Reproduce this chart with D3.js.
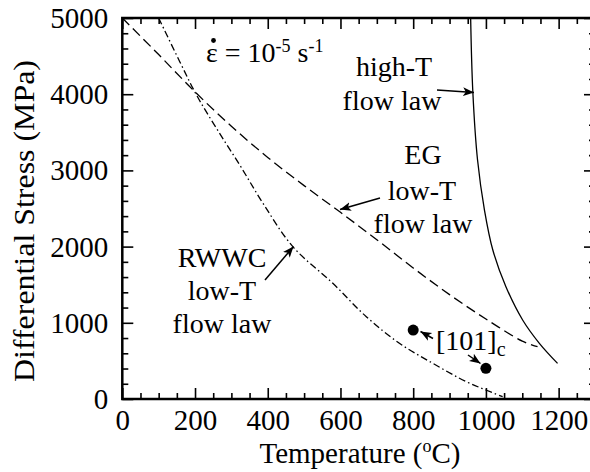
<!DOCTYPE html>
<html>
<head>
<meta charset="utf-8">
<script src="https://cdn.jsdelivr.net/npm/d3@7"></script>
<style>
  body { margin: 0; background: #fff; }
</style>
</head>
<body>
<svg id="chart" width="590" height="472"></svg>
<script>
// EG low-T flow law (dashed)
var egT = [0, 100, 200, 300, 400, 500, 600, 700, 800, 900, 1000, 1100, 1142];
var egS = [5000, 4520, 4030, 3580, 3170, 2800, 2450, 2090, 1720, 1370, 1050, 760, 686];
// RWWC low-T flow law (dash-dot)
var rwT = [100, 158, 204, 259, 323, 387, 469, 579, 671, 762, 854, 946, 1000, 1046];
var rwS = [5000, 4427, 3990, 3552, 3071, 2568, 2000, 1518, 1080, 731, 468, 227, 118, 30];
// high-T flow law (solid)
var htT = [958, 964, 977, 996, 1019, 1055, 1101, 1147, 1197];
var htS = [5000, 4033, 3136, 2480, 1955, 1474, 1037, 731, 468];
// [101]c experiments
var ptT = [800, 1000];
var ptS = [905, 403];

var xTicks = [0, 200, 400, 600, 800, 1000, 1200];
var yTicks = [0, 1000, 2000, 3000, 4000, 5000];

var FONT = '"Liberation Serif", "Times New Roman", Times, "DejaVu Serif", serif';

var svg = d3.select('#chart').style('font-family', FONT);
var x = d3.scaleLinear().domain([0, 1300]).range([122.3, 595]);
var y = d3.scaleLinear().domain([0, 5000]).range([399, 18]);

// arrow head
svg.append('defs').append('marker')
  .attr('id', 'head')
  .attr('viewBox', '0 0 10 10')
  .attr('refX', 10).attr('refY', 5)
  .attr('markerWidth', 11).attr('markerHeight', 11)
  .attr('markerUnits', 'userSpaceOnUse')
  .attr('orient', 'auto')
  .append('path').attr('d', 'M0,1 L10,5 L0,9 L2.5,5 Z').attr('fill', '#000');

function txt(sel) {
  return sel.style('font-family', FONT).attr('fill', '#000');
}

var xMinor = d3.range(0, 1301, 50).filter(function(v){ return v % 200; });
var xMajor = d3.range(0, 1301, 200);
var yMinor = d3.range(0, 5001, 200).filter(function(v){ return v % 1000; });

var g = svg.append('g');
// inward ticks on all four sides
function drawAxis(gen, tr, vals, size) {
  var a = g.append('g').attr('transform', tr)
    .call(gen.tickValues(vals).tickSize(size).tickSizeOuter(0).tickFormat(''));
  a.select('.domain').remove();
  a.selectAll('line').attr('stroke', '#000').attr('stroke-width', 1.6);
  return a;
}
drawAxis(d3.axisBottom(x), 'translate(0,399)', xMinor, -6);
var xa = drawAxis(d3.axisBottom(x), 'translate(0,399)', xMajor, -11);
txt(xa.selectAll('.tick').append('text').text(function(d){ return xTicks.indexOf(d) >= 0 ? d : ''; })
  .attr('y', 31).attr('text-anchor', 'middle').style('font-size', '29px'));
drawAxis(d3.axisTop(x), 'translate(0,18)', xMinor, -6);
drawAxis(d3.axisTop(x), 'translate(0,18)', xMajor, -11);

drawAxis(d3.axisLeft(y), 'translate(122.3,0)', yMinor, -6);
var ya = drawAxis(d3.axisLeft(y), 'translate(122.3,0)', yTicks, -11);
txt(ya.selectAll('.tick').append('text').text(function(d){ return d; })
  .attr('x', -14).attr('dy', '0.33em').attr('text-anchor', 'end').style('font-size', '29px'));
drawAxis(d3.axisRight(y), 'translate(595,0)', yMinor, -6);
drawAxis(d3.axisRight(y), 'translate(595,0)', yTicks, -11);

g.append('rect')
  .attr('x', x(0)).attr('y', y(5000))
  .attr('width', x(1300) - x(0)).attr('height', y(0) - y(5000))
  .attr('fill', 'none').attr('stroke', '#000').attr('stroke-width', 2.5);

// curves
var line = d3.line().curve(d3.curveCatmullRom)
  .x(function(d){ return x(d[0]); }).y(function(d){ return y(d[1]); });
function curve(T, S, dash) {
  svg.append('path').datum(d3.zip(T, S))
    .attr('d', line).attr('fill', 'none').attr('stroke', '#000')
    .attr('stroke-width', 1.3).attr('stroke-dasharray', dash);
}
curve(egT, egS, '10,5');
curve(rwT, rwS, '7,3,1.5,3');
curve(htT, htS, null);

svg.selectAll('.pt').data(d3.zip(ptT, ptS)).enter().append('circle')
  .attr('cx', function(d){ return x(d[0]); }).attr('cy', function(d){ return y(d[1]); })
  .attr('r', 5.5).attr('fill', '#000');

// arrows
function arrow(x1, y1, x2, y2) {
  svg.append('line').attr('x1', x1).attr('y1', y1).attr('x2', x2).attr('y2', y2)
    .attr('stroke', '#000').attr('stroke-width', 1.5).attr('marker-end', 'url(#head)');
}
arrow(437, 90, 474, 92.5);
arrow(380, 198, 340, 209.5);
arrow(265, 280, 293.5, 246.5);
arrow(433, 338.5, 420.5, 331.5);
arrow(468, 355, 480.5, 363.5);

// labels
function label(tx, ty, str) {
  txt(svg.append('text')).attr('x', tx).attr('y', ty).attr('text-anchor', 'middle')
    .style('font-size', '28px').text(str);
}
label(394, 76, 'high-T');
label(392, 110, 'flow law');
label(423, 164, 'EG');
label(422, 200, 'low-T');
label(423, 233, 'flow law');
label(222, 267, 'RWWC');
label(222, 300, 'low-T');
label(222, 333, 'flow law');

var br = txt(svg.append('text')).attr('x', 436).attr('y', 350).style('font-size', '28px');
br.append('tspan').text('[101]');
br.append('tspan').attr('dy', 6).style('font-size', '20px').text('c');

var eps = txt(svg.append('text')).attr('x', 206).attr('y', 62).style('font-size', '28px');
eps.append('tspan').text('\u03b5 = 10');
eps.append('tspan').attr('dy', -10).style('font-size', '18px').text('-5');
eps.append('tspan').attr('dy', 10).text(' s');
eps.append('tspan').attr('dy', -10).style('font-size', '18px').text('-1');
svg.append('circle').attr('cx', 213.5).attr('cy', 40.5).attr('r', 2.4).attr('fill', '#000');

// axis titles
var xt = txt(svg.append('text')).attr('x', 360).attr('y', 463).attr('text-anchor', 'middle')
  .style('font-size', '29px');
xt.append('tspan').text('Temperature (');
xt.append('tspan').attr('dy', -11).style('font-size', '18px').text('o');
xt.append('tspan').attr('dy', 11).text('C)');

txt(svg.append('text')).attr('transform', 'translate(34,221) rotate(-90)')
  .attr('text-anchor', 'middle').style('font-size', '30px')
  .attr('textLength', 322).attr('lengthAdjust', 'spacingAndGlyphs')
  .text('Differential Stress (MPa)');
</script>
</body>
</html>
